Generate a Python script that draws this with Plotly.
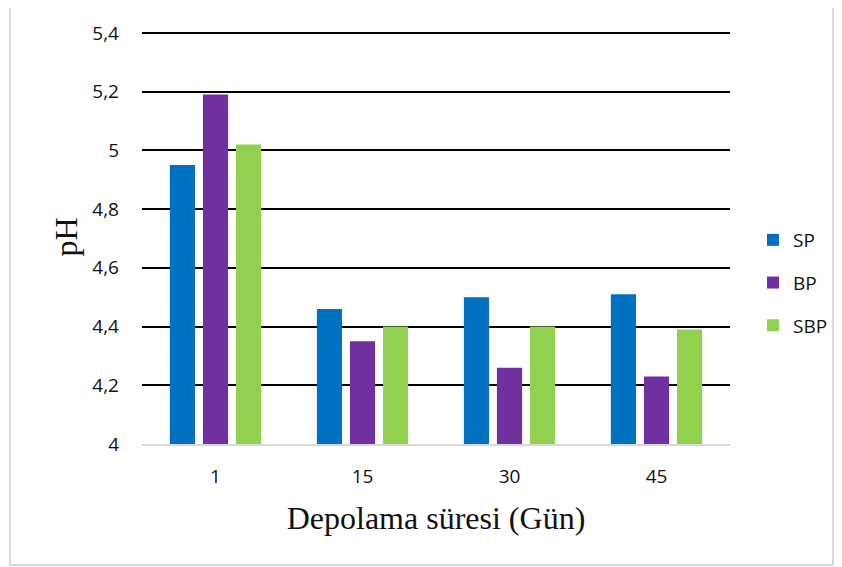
import plotly.graph_objects as go

categories = ["1", "15", "30", "45"]
sp = [4.95, 4.46, 4.50, 4.51]
bp = [5.19, 4.35, 4.26, 4.23]
sbp = [5.02, 4.40, 4.40, 4.39]
series_names = ["SP", "BP", "SBP"]
colors = ["#0070C0", "#7030A0", "#92D050"]
y_ticks = [4, 4.2, 4.4, 4.6, 4.8, 5, 5.2, 5.4]

fig = go.Figure()
for name, vals, col in zip(series_names, [sp, bp, sbp], colors):
    fig.add_trace(go.Bar(x=categories, y=vals, name=name, marker_color=col,
                         marker_line_width=0, legendgroup=name))

# page offset compensation (body margin of 8px)
OFF = 8
W, H = 842, 567
L, R, T, B = 142 - OFF, 112 + OFF, 30 - OFF, 123 + OFF
pw, ph = W - L - R, H - T - B

def px(x):
    return (x - OFF - L) / pw

def py(y):
    return (H - B - (y - OFF)) / ph

fig.add_shape(type="rect", xref="paper", yref="paper",
              x0=px(10), x1=px(833), y0=py(565), y1=py(4),
              line=dict(color="#d9d9d9", width=2), fillcolor="rgba(0,0,0,0)", layer="below")

fig.update_layout(
    width=W, height=H,
    margin=dict(l=L, r=R, t=T, b=B, pad=0, autoexpand=False),
    paper_bgcolor="white", plot_bgcolor="white",
    separators=",.",
    barmode="group", bargap=0.325, bargroupgap=0.24,
    font=dict(family="Open Sans, Lato, sans-serif", size=19, color="#111111"),
    legend=dict(x=px(753), y=py(221), xanchor="left", yanchor="top",
                font=dict(size=19), tracegroupgap=15, itemwidth=30,
                bgcolor="rgba(0,0,0,0)"),
    xaxis=dict(showline=True, linecolor="#d9d9d9", linewidth=2, showgrid=False,
               ticks="", ticklabelstandoff=14,
               title=dict(text="Depolama süresi (Gün)", standoff=19,
                          font=dict(family="Liberation Serif, Times New Roman, serif", size=32, color="#111"))),
    yaxis=dict(range=[4, 5.41], tickvals=y_ticks, showgrid=True, gridcolor="#000000", gridwidth=1.5,
               zeroline=False, showline=False, ticks="", ticklabelstandoff=22,
               title=dict(text="pH", standoff=5,
                          font=dict(family="Liberation Serif, Times New Roman, serif", size=32, color="#111"))),
)

fig.write_html("out.html")
